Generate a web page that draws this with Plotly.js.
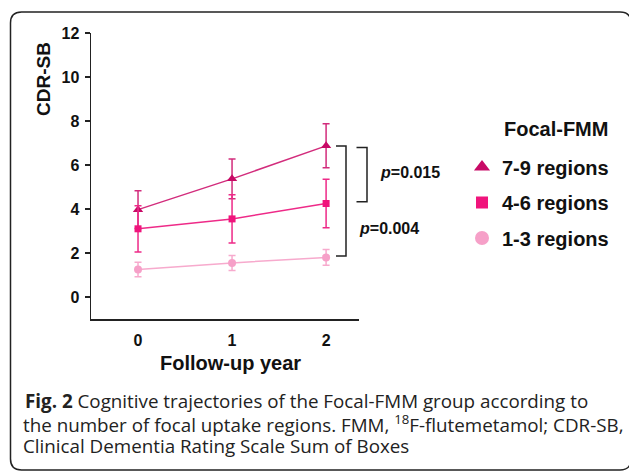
<!DOCTYPE html>
<html>
<head>
<meta charset="utf-8">
<script src="https://cdn.plot.ly/plotly-3.0.1.min.js"></script>
<style>html,body{margin:0;padding:0;background:#fff;}#chart{width:629px;height:472px;}</style>
</head>
<body>
<div id="chart"></div>
<script>
// ---- data ----
var years = [0, 1, 2];
var yearLabels = ['0', '1', '2'];
var seriesNames = ['7-9 regions', '4-6 regions', '1-3 regions'];
var cdr79 = [3.97, 5.37, 6.87];
var err79 = [0.86, 0.9, 1.0];
var cdr46 = [3.1, 3.55, 4.25];
var err46 = [1.05, 1.1, 1.1];
var cdr13 = [1.25, 1.55, 1.8];
var err13 = [0.33, 0.34, 0.36];
var yTicks = [0, 2, 4, 6, 8, 10, 12];
var pLabels = ['p=0.015', 'p=0.004'];
var captionLines = [
  '<b>Fig. 2</b> Cognitive trajectories of the Focal-FMM group according to',
  'the number of focal uptake regions. FMM, <sup>18</sup>F-flutemetamol; CDR-SB,',
  'Clinical Dementia Rating Scale Sum of Boxes'
];

var markerCol = ['#C80A66', '#F0147C', '#F6A0C8'];
var lineCol = ['#D22C7C', '#EE2A88', '#F7AACD'];
var symbols = ['triangle-up', 'square', 'circle'];
var sizes = [9, 7, 8];
var legSizes = [14, 12, 14];
var ys = [cdr79, cdr46, cdr13];
var es = [err79, err46, err13];

var F = 'Liberation Sans, Arial, sans-serif';
var traces = [];
for (var i = 0; i < 3; i++) {
  traces.push({
    x: years, y: ys[i], type: 'scatter', mode: 'lines+markers',
    showlegend: false,
    line: {color: lineCol[i], width: 1.5},
    marker: {symbol: symbols[i], size: sizes[i], color: markerCol[i]},
    error_y: {type: 'data', array: es[i], visible: true, color: lineCol[i], thickness: 1.5, width: 3.5}
  });
}
for (var j = 0; j < 3; j++) {
  traces.push({
    x: [null], y: [null], type: 'scatter', mode: 'markers',
    name: seriesNames[j], legendgroup: 'g' + j, showlegend: true,
    marker: {symbol: symbols[j], size: legSizes[j], color: markerCol[j]}
  });
}

// pixel -> paper helpers (plot area 91..359 x, 33..319 y)
function px(v) { return (v - 91) / 268; }
function py(v) { return (319 - v) / 286; }

var bl = px(10.5), br = px(631), bt = py(12), bb = py(470);
var rx = 11 / 268, ry = 11 / 286;
var borderPath = 'M ' + bl + ' ' + (bt - ry) + ' Q ' + bl + ' ' + bt + ' ' + (bl + rx) + ' ' + bt +
  ' L ' + (br - rx) + ' ' + bt + ' Q ' + br + ' ' + bt + ' ' + br + ' ' + (bt - ry) +
  ' L ' + br + ' ' + (bb + ry) + ' Q ' + br + ' ' + bb + ' ' + (br - rx) + ' ' + bb +
  ' L ' + (bl + rx) + ' ' + bb + ' Q ' + bl + ' ' + bb + ' ' + bl + ' ' + (bb + ry) + ' Z';

var bk = {color: '#222', width: 1.5};
var shapes = [
  {type: 'path', xref: 'paper', yref: 'paper', path: borderPath, line: {color: '#222', width: 1.5}, layer: 'above'},
  // outer bracket (7-9 vs 1-3)
  {type: 'path', xref: 'paper', yref: 'y', line: bk,
   path: 'M ' + px(336) + ' 6.86 L ' + px(346) + ' 6.86 L ' + px(346) + ' 1.86 L ' + px(336) + ' 1.86'},
  // inner bracket (7-9 vs 4-6)
  {type: 'path', xref: 'paper', yref: 'y', line: bk,
   path: 'M ' + px(356.5) + ' 6.79 L ' + px(367) + ' 6.79 L ' + px(367) + ' 4.33 L ' + px(356.5) + ' 4.33'}
];

function pTxt(s) { return '<i>' + s.charAt(0) + '</i>' + s.slice(1); }

var annotations = [
  {xref: 'paper', yref: 'paper', x: px(43), y: py(79), text: 'CDR-SB', textangle: -90, showarrow: false,
   font: {family: F, size: 19, weight: 'bold', color: '#111'}, xanchor: 'center', yanchor: 'middle'},
  {xref: 'paper', yref: 'paper', x: px(230.5), y: py(362.5), text: 'Follow-up year', showarrow: false,
   font: {family: F, size: 20, weight: 'bold', color: '#111'}, xanchor: 'center', yanchor: 'middle'},
  {xref: 'paper', yref: 'paper', x: px(502), y: py(129), text: 'Focal-FMM', showarrow: false,
   font: {family: F, size: 20, weight: 'bold', color: '#111'}, xanchor: 'left', yanchor: 'middle'},
  {xref: 'paper', yref: 'paper', x: px(378), y: py(172), text: pTxt(pLabels[0]), showarrow: false,
   font: {family: F, size: 16, weight: 'bold', color: '#111'}, xanchor: 'left', yanchor: 'middle'},
  {xref: 'paper', yref: 'paper', x: px(357), y: py(228), text: pTxt(pLabels[1]), showarrow: false,
   font: {family: F, size: 16, weight: 'bold', color: '#111'}, xanchor: 'left', yanchor: 'middle'}
];
var capY = [401.5, 423.5, 445.5];
for (var k = 0; k < captionLines.length; k++) {
  annotations.push({xref: 'paper', yref: 'paper', x: px(k === 0 ? 23 : 21), y: py(capY[k]), xanchor: 'left', yanchor: 'middle',
    align: 'left', showarrow: false, text: captionLines[k],
    font: {family: 'Open Sans, Noto Sans, sans-serif', size: 18.8, color: '#222'}});
}

var layout = {
  width: 629, height: 472,
  margin: {l: 91, r: 270, t: 33, b: 153, pad: 0},
  paper_bgcolor: '#fff', plot_bgcolor: '#fff',
  showlegend: true,
  legend: {x: px(462), y: py(147.5), xanchor: 'left', yanchor: 'top', traceorder: 'grouped', tracegroupgap: 6.5,
           font: {family: F, size: 20, weight: 'bold', color: '#111'}, bgcolor: 'rgba(0,0,0,0)'},
  xaxis: {range: [-0.5, 2.35], tickvals: years, ticktext: yearLabels, ticks: '', showgrid: false, zeroline: false,
          showline: true, linecolor: '#222', linewidth: 1.5, ticklabelstandoff: 6,
          tickfont: {family: F, size: 16, weight: 'bold', color: '#111'}, fixedrange: true},
  yaxis: {range: [-1, 12], tickvals: yTicks, ticktext: yTicks.map(String), ticks: 'outside', ticklen: 5, tickwidth: 1.5,
          tickcolor: '#222', showgrid: false, zeroline: false, showline: true, linecolor: '#222', linewidth: 1.5,
          ticklabelstandoff: 2, tickfont: {family: F, size: 16, weight: 'bold', color: '#111'}, fixedrange: true},
  shapes: shapes,
  annotations: annotations
};

Plotly.newPlot('chart', traces, layout, {displayModeBar: false, staticPlot: true});
</script>
</body>
</html>
